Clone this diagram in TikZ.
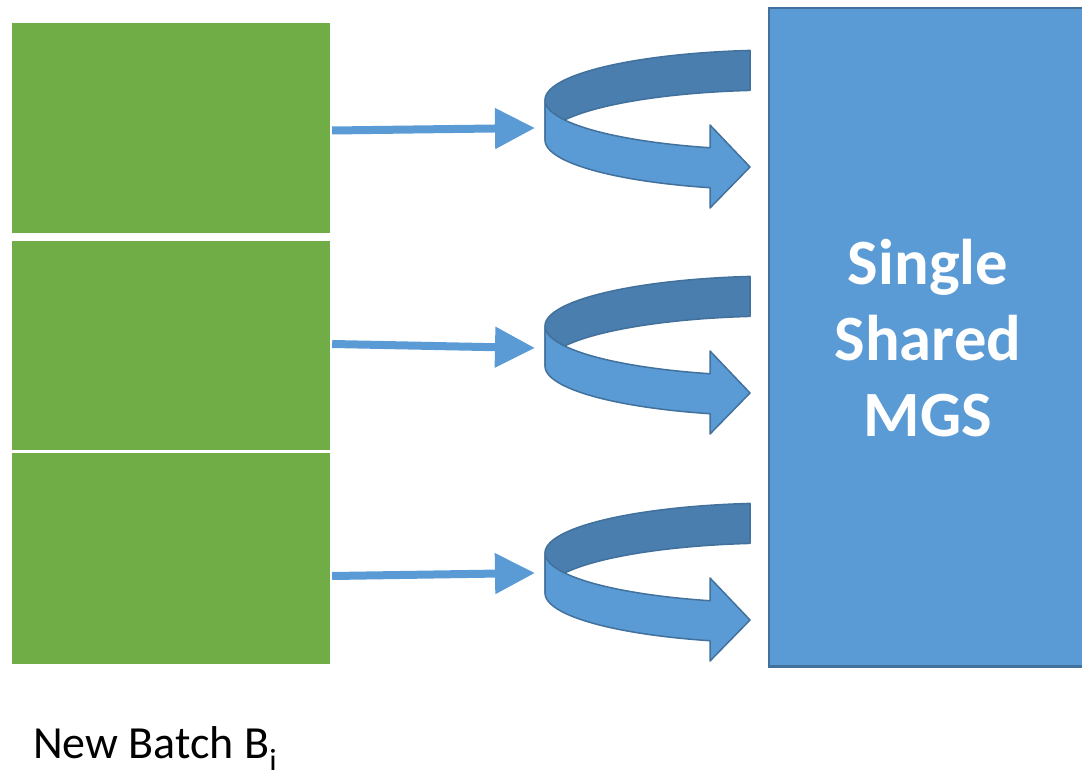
\documentclass[tikz,border=0pt]{standalone}
\usepackage{fontspec}
\setmainfont{Carlito}
\usetikzlibrary{arrows.meta}

\definecolor{batchgreen}{HTML}{70AD47}
\definecolor{accblue}{HTML}{5B9BD5}
\definecolor{bandshade}{HTML}{4A7EAE}
\definecolor{edgeblue}{HTML}{41719C}

\tikzset{
  batch/.style={fill=batchgreen, draw=none, minimum width=318pt, inner sep=0pt},
  feed/.style={draw=accblue, line width=8pt, -{Triangle[length=40pt,width=39pt]}},
  backband/.style={fill=bandshade, draw=edgeblue, line width=1.5pt, line join=round},
  frontband/.style={fill=accblue, draw=edgeblue, line width=1.5pt, line join=round},
  % a band bent round like a ring, seen from slightly above, ending in an arrow head
  pics/loopband/.style={code={
    \filldraw[backband]
      plot[domain=262.67:180, samples=50] ({780+235*cos(\x)},{100+50*sin(\x)})
      -- plot[domain=180:262.67, samples=50] ({780+235*cos(\x)},{140+50*sin(\x)})
      -- cycle;
    \filldraw[frontband]
      plot[domain=180:107.33, samples=50] ({780+235*cos(\x)},{100+50*sin(\x)})
      -- (710,125) -- (750,167) -- (710,208)
      -- plot[domain=107.33:180, samples=50] ({780+235*cos(\x)},{140+50*sin(\x)})
      -- cycle;
  }}
}

\begin{document}
\begin{tikzpicture}[x=1pt,y=-1pt]
\useasboundingbox (0,0) rectangle (1082,770);
\clip (0,0) rectangle (1082,770);

% batch blocks
\node[batch, minimum height=209.4pt] (b1) at (171,128) {};
\node[batch, minimum height=209.3pt] (b2) at (171,345.35) {};
\node[batch, minimum height=211.6pt] (b3) at (171,558.5) {};

% shared store
\node[fill=accblue, draw=edgeblue, line width=2.5pt, inner sep=0pt,
      minimum width=326pt, minimum height=658.7pt] (mgs) at (931.85,337.35) {};
\node[text=white, align=center, inner sep=0pt,
      font=\bfseries\fontsize{64.6}{76}\selectfont] (mgslabel) at (928,338) {Single\\Shared\\MGS};

% looping arrows
\pic at (0,0) {loopband};
\pic at (0,226) {loopband};
\pic at (0,453) {loopband};

% entry points of the loops
\coordinate (in1) at (535,128);
\coordinate (in2) at (535,348);
\coordinate (in3) at (535,573);

\draw[feed] ([xshift=2pt,yshift=-2.5pt]b1.east) -- (in1);
\draw[feed] ([xshift=2pt,yshift=1.35pt]b2.east) -- (in2);
\draw[feed] ([xshift=2pt,yshift=-17.5pt]b3.east) -- (in3);

\node[anchor=base west, inner sep=0pt, font=\fontsize{46}{52}\selectfont] (batchlabel)
  at (33,758) {New Batch B\textsubscript{i}};
\end{tikzpicture}
\end{document}
